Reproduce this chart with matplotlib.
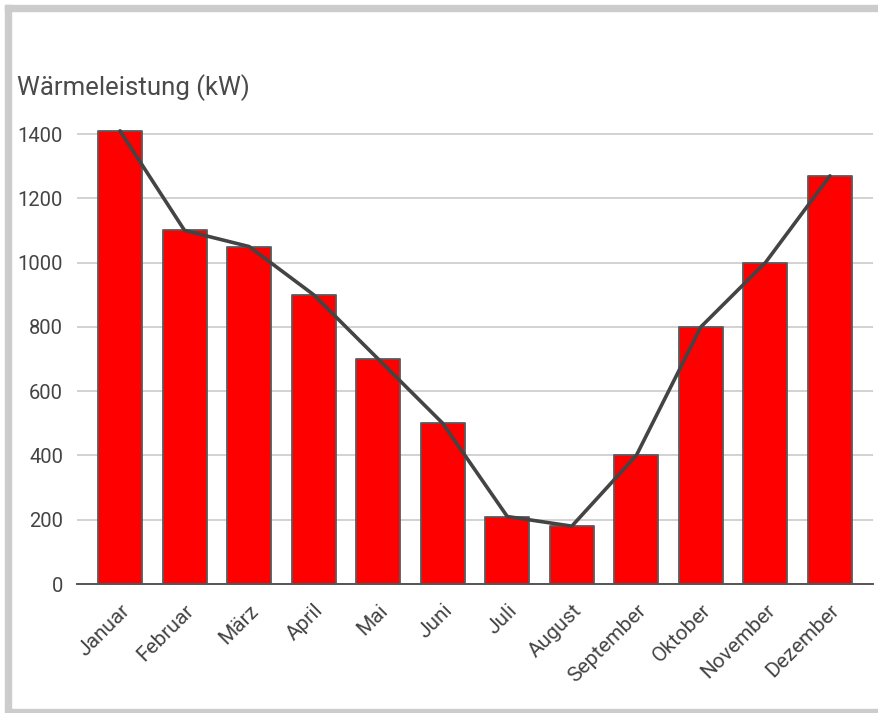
import matplotlib
matplotlib.use("Agg")
import matplotlib.pyplot as plt
from matplotlib.patches import Rectangle

plt.rcParams['font.family'] = ['Roboto', 'DejaVu Sans']

months = ["Januar", "Februar", "März", "April", "Mai", "Juni",
          "Juli", "August", "September", "Oktober", "November", "Dezember"]
leistung = [1410, 1100, 1050, 900, 700, 500, 210, 180, 400, 800, 1000, 1270]
yticks = [0, 200, 400, 600, 800, 1000, 1200, 1400]
title = "Wärmeleistung (kW)"

W, H = 879, 713
fig = plt.figure(figsize=(W / 100, H / 100), dpi=100)
fig.patch.set_facecolor("white")

# light grey frame (left, top, bottom)
frame_col = "#cccccc"
fig.patches.append(Rectangle((5 / W, 1 - 710 / H), 6 / W, (705) / H,
                             transform=fig.transFigure, color=frame_col, zorder=0))
fig.patches.append(Rectangle((5 / W, 1 - 11 / H), (W - 5) / W, 6 / H,
                             transform=fig.transFigure, color=frame_col, zorder=0))
fig.patches.append(Rectangle((5 / W, 0), (W - 5) / W, 4 / H,
                             transform=fig.transFigure, color=frame_col, zorder=0))

ax = fig.add_axes([77 / W, 129 / H, 796 / W, 466 / H])
x = list(range(len(months)))
ax.bar(x, leistung, width=0.68, color="#ff0000", edgecolor="#5a5a5a",
       linewidth=1.3, zorder=3, joinstyle="round")
ax.plot(x, leistung, color="#444444", linewidth=2.6, zorder=4,
        solid_joinstyle="round", solid_capstyle="round")

ax.set_xlim(-0.667, 11.667)
ax.set_ylim(0, 1450)
ax.set_yticks(yticks)
ax.set_yticklabels([str(v) for v in yticks])
ax.set_xticks(x)
ax.set_xticklabels(months, rotation=45, ha="right", rotation_mode="anchor")

for s in ["top", "right", "left"]:
    ax.spines[s].set_visible(False)
ax.spines["bottom"].set_color("#555555")
ax.spines["bottom"].set_linewidth(1.4)
ax.spines["bottom"].set_zorder(5)

ax.grid(axis="y", color="#cfcfcf", linewidth=1.3, zorder=0)
ax.set_axisbelow(True)
ax.tick_params(axis="y", length=0, pad=10, labelsize=14.5, labelcolor="#444444")
ax.tick_params(axis="x", length=0, pad=12, labelsize=15, labelcolor="#444444")

fig.text(17 / W, 1 - 95 / H, title, fontsize=18.5, color="#4a4a4a",
         ha="left", va="baseline")

fig.savefig("out.png", dpi=100, facecolor="white")
